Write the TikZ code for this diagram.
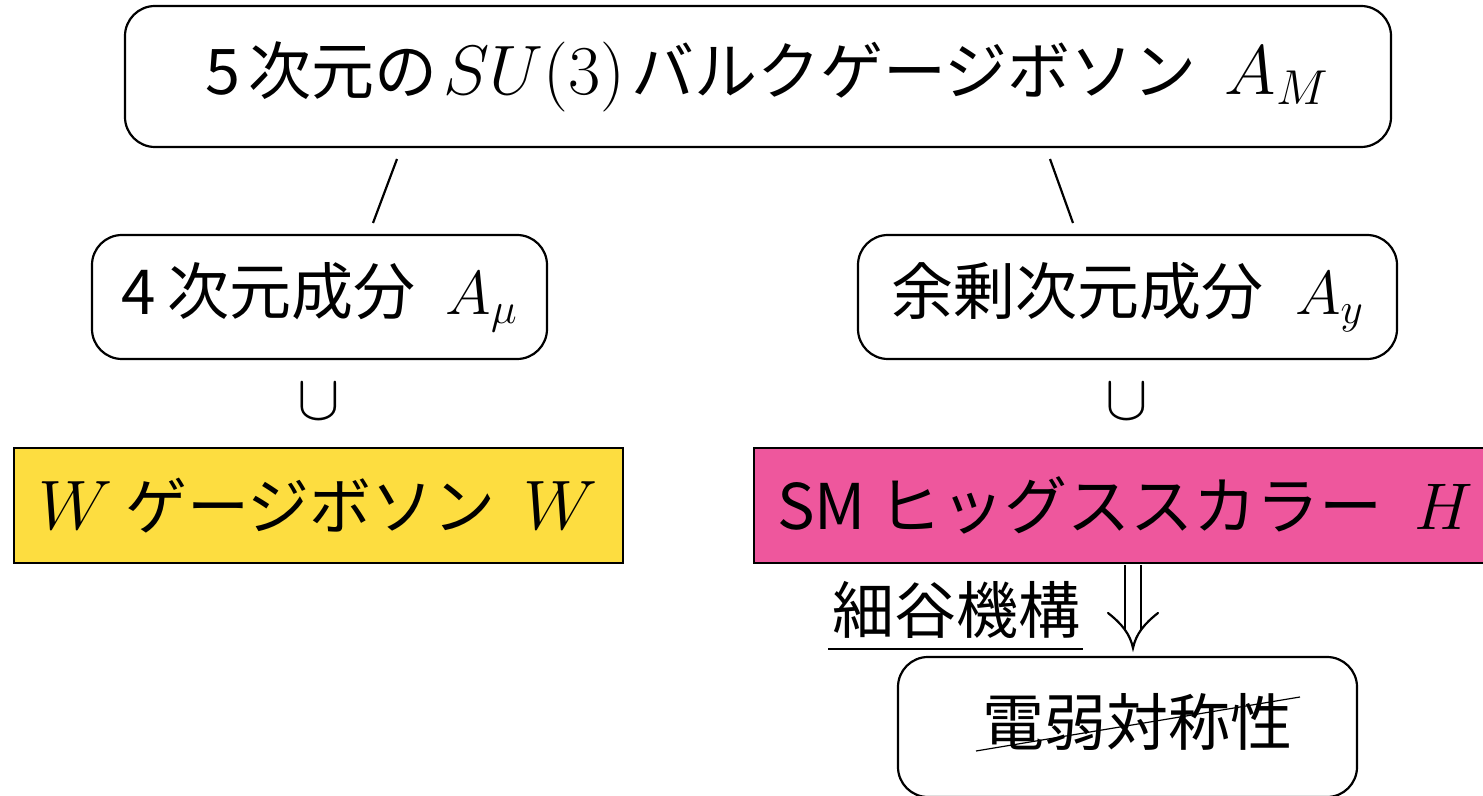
\RequirePackage{fix-cm}
\documentclass[tikz,border=0pt]{standalone}
\usepackage[no-math]{fontspec}
\newfontfamily\jp{Noto Sans CJK JP}
\definecolor{wyellow}{HTML}{FDDD40}
\definecolor{hpink}{HTML}{EE579D}
\newcommand{\mathsz}[2]{{\fontsize{#1}{#1}\selectfont$#2$}}
\begin{document}
\begin{tikzpicture}[x=0.5pt,y=-0.5pt,
  rbox/.style={draw,line width=1.1pt,rounded corners=15pt,inner sep=0pt,font=\jp\fontsize{31}{36}\selectfont},
  cbox/.style={draw,line width=1.4pt,inner sep=0pt,font=\jp\fontsize{31}{36}\selectfont},
  lbl/.style={inner sep=0pt,font=\jp\fontsize{31}{36}\selectfont},
  cupsym/.style={inner sep=0pt,font=\fontsize{32}{36}\selectfont},
  link/.style={line width=1.1pt}]
\useasboundingbox (0,0) rectangle (1483,796);
\begin{scope}
\clip (0,0) rectangle (1483,796);
\node[rbox,font=\jp\fontsize{31.5}{36}\selectfont,minimum width=633pt,minimum height=70.5pt] (top) at (758,76.5)
  {\hspace*{9pt}5\hspace{4pt}次元の\hspace{3pt}\mathsz{35}{SU(3)}\hspace{3pt}バルクゲージボソン\hspace{14pt}\mathsz{35}{A_M}};
\node[rbox,minimum width=227.5pt,minimum height=62pt] (four) at (319.5,297)
  {4\hspace{6pt}次元成分\hspace{15pt}\mathsz{31}{A_\mu}};
\node[rbox,minimum width=269.5pt,minimum height=62pt] (extra) at (1127.5,297)
  {余剰次元成分\hspace{16pt}\mathsz{31}{A_y}};
\coordinate (l1) at (397,159);
\coordinate (l2) at (373,223);
\coordinate (r1) at (1050,159);
\coordinate (r2) at (1073,223);
\draw[link] (l1) -- (l2);
\draw[link] (r1) -- (r2);
\node[cupsym] (cupL) at (319,402) {$\cup$};
\node[cupsym] (cupR) at (1127,402) {$\cup$};
\node[cbox,fill=wyellow,minimum width=304.5pt,minimum height=57.5pt] (wbox) at (318.5,505.5)
  {\mathsz{35}{W}\hspace{6pt}ゲージボソン\hspace{14pt}\mathsz{35}{W}};
\node[cbox,fill=hpink,font=\jp\fontsize{31.5}{36}\selectfont,minimum width=371pt,minimum height=57.5pt] (hbox) at (1125,505.5)
  {SM\hspace{6pt}ヒッグススカラー\hspace{16pt}\mathsz{33}{H}};
\node[lbl] (hos) at (956,610) {細谷機構};
\coordinate (u1) at (828,649);
\coordinate (u2) at (1083,649);
\draw[line width=1.1pt] (u1) -- (u2);
% double arrow
\coordinate (a1) at (1125,565);
\coordinate (a2) at (1141,565);
\coordinate (a1e) at (1125,631);
\coordinate (a2e) at (1141,631);
\coordinate (tipL) at (1108,613);
\coordinate (tipR) at (1158,613);
\coordinate (tip) at (1133,648);
\draw[link] (a1) -- (a1e);
\draw[link] (a2) -- (a2e);
\draw[link,line cap=round] (tipL) .. controls (1122,624) and (1130,634) .. (tip) .. controls (1136,634) and (1144,624) .. (tipR);
\node[rbox,minimum width=229.5pt,minimum height=70pt] (ewsbox) at (1127.5,727) {};
\node[lbl] (ews) at (1137,722) {電弱対称性};
\coordinate (s1) at (976,751);
\coordinate (s2) at (1300,697);
\draw[line width=0.6pt] (s1) -- (s2);
\end{scope}
\end{tikzpicture}
\end{document}
